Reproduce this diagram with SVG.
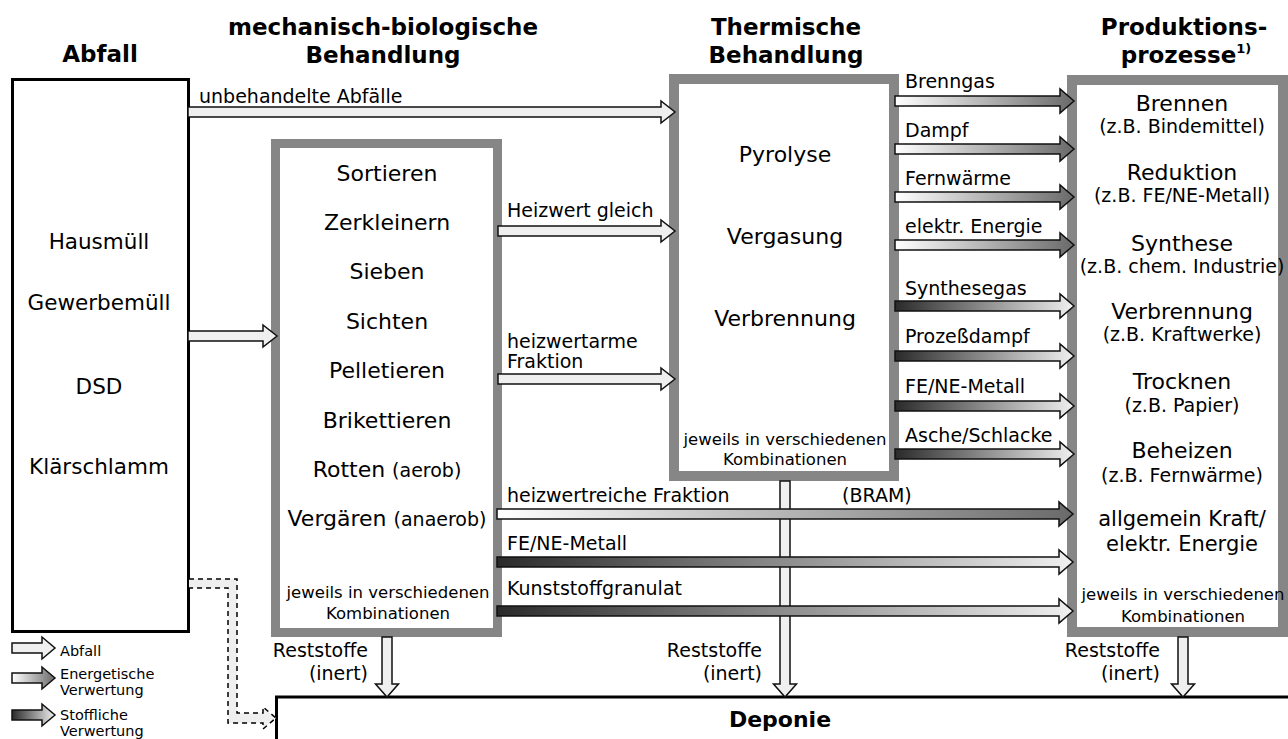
<svg xmlns="http://www.w3.org/2000/svg" width="1288" height="739" viewBox="0 0 1288 739">
<defs>
<style>
text{font-family:"DejaVu Sans","Liberation Sans",sans-serif;fill:#000}
.h{font-weight:bold;font-size:23px;text-anchor:middle}
.m{font-size:22px;text-anchor:middle}
.sub{font-size:19px;text-anchor:middle}
.l{font-size:19px}
.r{font-size:19px;text-anchor:end}
.k{font-size:16.5px;text-anchor:middle}
.lg{font-size:14.5px}
.frame{fill:#fff;stroke:#868686;stroke-width:10}
.black{fill:#fff;stroke:#000;stroke-width:3}
.a{stroke:#111;stroke-width:1.5;stroke-linejoin:miter}
.aw{fill:#efefef}
.ae{fill:url(#gE)}
.as{fill:url(#gS)}
</style>
<linearGradient id="gE" x1="0" y1="0" x2="1" y2="0">
<stop offset="0" stop-color="#ffffff"/>
<stop offset="1" stop-color="#6a6a6a"/>
</linearGradient>
<linearGradient id="gS" x1="0" y1="0" x2="1" y2="0">
<stop offset="0" stop-color="#2a2a2a"/>
<stop offset="1" stop-color="#f0f0f0"/>
</linearGradient>
</defs>
<rect width="1288" height="739" fill="#fff"/>

<g id="headers">
<text class="h" x="100" y="62">Abfall</text>
<text class="h" x="383" y="35">mechanisch-biologische</text>
<text class="h" x="383" y="63">Behandlung</text>
<text class="h" x="786" y="35">Thermische</text>
<text class="h" x="786" y="63">Behandlung</text>
<text class="h" x="1184" y="35">Produktions-</text>
<text class="h" x="1186" y="63">prozesse<tspan font-size="13" dy="-10">1)</tspan></text>
</g>

<g id="abfall">
<rect class="black" x="12.5" y="79.5" width="176" height="552"/>
<text class="m" x="99" y="249" style="font-size:21.5px">Hausmüll</text>
<text class="m" x="99" y="310" style="font-size:21.5px">Gewerbemüll</text>
<text class="m" x="99" y="394" style="font-size:21.5px">DSD</text>
<text class="m" x="99" y="474" style="font-size:21.5px">Klärschlamm</text>
</g>

<g id="mbb">
<rect class="frame" x="275.5" y="143.5" width="222" height="489" style="stroke-width:9"/>
<text class="m" x="387" y="181">Sortieren</text>
<text class="m" x="387" y="230">Zerkleinern</text>
<text class="m" x="387" y="279">Sieben</text>
<text class="m" x="387" y="329">Sichten</text>
<text class="m" x="387" y="378">Pelletieren</text>
<text class="m" x="387" y="428">Brikettieren</text>
<text class="m" x="387" y="477">Rotten <tspan font-size="19">(aerob)</tspan></text>
<text class="m" x="387" y="526">Vergären <tspan font-size="19">(anaerob)</tspan></text>
<text class="k" x="388" y="598">jeweils in verschiedenen</text>
<text class="k" x="388" y="619">Kombinationen</text>
</g>

<g id="thermisch">
<rect class="frame" x="674" y="79" width="220" height="397"/>
<text class="m" x="785" y="162">Pyrolyse</text>
<text class="m" x="785" y="244">Vergasung</text>
<text class="m" x="785" y="326">Verbrennung</text>
<text class="k" x="785" y="445">jeweils in verschiedenen</text>
<text class="k" x="785" y="465">Kombinationen</text>
</g>

<g id="produktion">
<rect class="frame" x="1072" y="80" width="211" height="552"/>
<text class="m" x="1182" y="111">Brennen</text>
<text class="sub" x="1182" y="133">(z.B. Bindemittel)</text>
<text class="m" x="1182" y="180">Reduktion</text>
<text class="sub" x="1182" y="202">(z.B. FE/NE-Metall)</text>
<text class="m" x="1182" y="251">Synthese</text>
<text class="sub" x="1182" y="273">(z.B. chem. Industrie)</text>
<text class="m" x="1182" y="319">Verbrennung</text>
<text class="sub" x="1182" y="341">(z.B. Kraftwerke)</text>
<text class="m" x="1182" y="389">Trocknen</text>
<text class="sub" x="1182" y="412">(z.B. Papier)</text>
<text class="m" x="1182" y="458">Beheizen</text>
<text class="sub" x="1182" y="482">(z.B. Fernwärme)</text>
<text class="m" x="1182" y="526" style="font-size:21px">allgemein Kraft/</text>
<text class="m" x="1182" y="551" style="font-size:21px">elektr. Energie</text>
<text class="k" x="1183" y="600">jeweils in verschiedenen</text>
<text class="k" x="1183" y="622">Kombinationen</text>
</g>

<g id="deponie">
<rect class="black" x="276.5" y="697" width="1100" height="100"/>
<text class="h" x="780" y="727" style="font-size:22px">Deponie</text>
</g>

<g id="connectors">
<polygon class="a aw" points="188,107 661,107 661,101 675,112 661,123 661,117 188,117"/>
<text class="l" x="199" y="103">unbehandelte Abfälle</text>
<polygon class="a aw" points="188,331 263,331 263,325 277,336 263,347 263,341 188,341"/>
<polygon class="a aw" points="498,226 661,226 661,220 675,231 661,242 661,236 498,236"/>
<text class="l" x="507" y="217">Heizwert gleich</text>
<polygon class="a aw" points="498,374 661,374 661,368 675,379 661,390 661,384 498,384"/>
<text class="l" x="507" y="348">heizwertarme</text>
<text class="l" x="507" y="368">Fraktion</text>

<polygon class="a ae" points="895,96 1060,96 1060,89 1074,101 1060,113 1060,106 895,106"/>
<text class="l" x="905" y="88">Brenngas</text>
<polygon class="a ae" points="895,144 1060,144 1060,137 1074,149 1060,161 1060,154 895,154"/>
<text class="l" x="905" y="137">Dampf</text>
<polygon class="a ae" points="895,192 1060,192 1060,185 1074,197 1060,209 1060,202 895,202"/>
<text class="l" x="905" y="185">Fernwärme</text>
<polygon class="a ae" points="895,240 1060,240 1060,233 1074,245 1060,257 1060,250 895,250"/>
<text class="l" x="905" y="233">elektr. Energie</text>
<polygon class="a as" points="895,301 1060,301 1060,294 1074,306 1060,318 1060,311 895,311"/>
<text class="l" x="905" y="295">Synthesegas</text>
<polygon class="a as" points="895,351 1060,351 1060,344 1074,356 1060,368 1060,361 895,361"/>
<text class="l" x="905" y="343">Prozeßdampf</text>
<polygon class="a as" points="895,401 1060,401 1060,394 1074,406 1060,418 1060,411 895,411"/>
<text class="l" x="905" y="393">FE/NE-Metall</text>
<polygon class="a as" points="895,449 1060,449 1060,442 1074,454 1060,466 1060,459 895,459"/>
<text class="l" x="905" y="442">Asche/Schlacke</text>

<polygon class="a aw" points="780,481 790,481 790,684 796.5,684 785,697 773.5,684 780,684"/>
<polygon class="a aw" points="382,637 392,637 392,684 398.5,684 387,697 375.5,684 382,684"/>
<polygon class="a aw" points="1178,637 1188,637 1188,684 1194.5,684 1183,697 1171.5,684 1178,684"/>

<polygon class="a ae" points="497,509 1059,509 1059,502 1073,514 1059,526 1059,519 497,519"/>
<text class="l" x="507" y="502">heizwertreiche Fraktion</text>
<text class="l" x="842" y="502">(BRAM)</text>
<polygon class="a as" points="497,557 1059,557 1059,550 1073,562 1059,574 1059,567 497,567"/>
<text class="l" x="507" y="550">FE/NE-Metall</text>
<polygon class="a as" points="497,606 1059,606 1059,599 1073,611 1059,623 1059,616 497,616"/>
<text class="l" x="507" y="595">Kunststoffgranulat</text>

<text class="r" x="368" y="657">Reststoffe</text>
<text class="r" x="368" y="680">(inert)</text>
<text class="r" x="762" y="657">Reststoffe</text>
<text class="r" x="762" y="680">(inert)</text>
<text class="r" x="1160" y="657">Reststoffe</text>
<text class="r" x="1160" y="680">(inert)</text>

<path d="M189,579 L237,579 L237,713 L263,713 L263,707 L276,718 L263,729 L263,723 L228,723 L228,588 L189,588" fill="#efefef" stroke="#000" stroke-width="1.5" stroke-dasharray="5,4"/>
</g>

<g id="legend">
<polygon class="a aw" points="12,643 42,643 42,637 55,648 42,659 42,653 12,653"/>
<text class="lg" x="60" y="656">Abfall</text>
<polygon class="a ae" points="12,673 42,673 42,667 55,678 42,689 42,683 12,683"/>
<text class="lg" x="60" y="679">Energetische</text>
<text class="lg" x="60" y="695">Verwertung</text>
<polygon class="a as" points="12,710 42,710 42,704 55,715 42,726 42,720 12,720"/>
<text class="lg" x="60" y="720">Stoffliche</text>
<text class="lg" x="60" y="736">Verwertung</text>
</g>
</svg>
